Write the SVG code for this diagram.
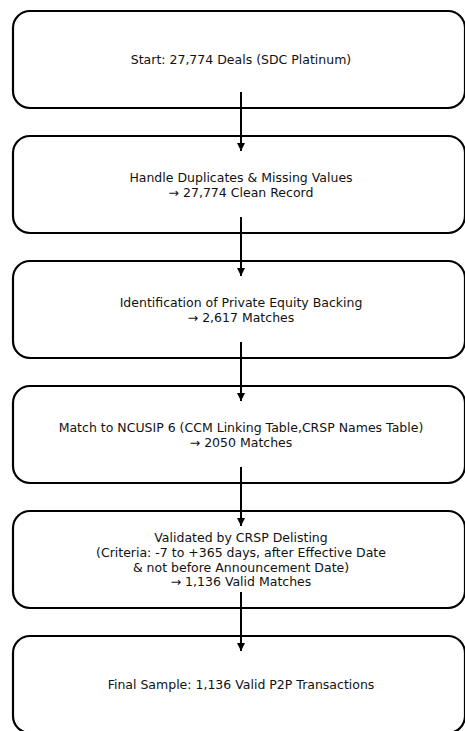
<svg xmlns="http://www.w3.org/2000/svg" width="465" height="731" viewBox="0 0 465 731">
<style>
.box{fill:#fff;stroke:#000;stroke-width:2.2}
.t{font-family:"DejaVu Sans",sans-serif;font-size:12.5px;fill:#111;text-anchor:middle}
.c{stroke:#000;stroke-width:2;fill:none}
</style>
<defs>
<marker id="ah" viewBox="0 0 10 10" refX="10" refY="5" markerWidth="4" markerHeight="4.5" orient="auto" markerUnits="strokeWidth">
<path d="M0,0 L10,5 L0,10 z" fill="#000"/>
</marker>
</defs>
<rect width="465" height="731" fill="#fff"/>
<g id="n1"><rect class="box" x="13" y="11" width="452" height="97" rx="17"/><text class="t" x="241" y="64">Start: 27,774 Deals (SDC Platinum)</text></g>
<g id="n2"><rect class="box" x="13" y="136" width="452" height="97" rx="17"/><text class="t" x="241" y="182">Handle Duplicates &amp; Missing Values</text><text class="t" x="241" y="197">→ 27,774 Clean Record</text></g>
<g id="n3"><rect class="box" x="13" y="261" width="452" height="97" rx="17"/><text class="t" x="241" y="307">Identification of Private Equity Backing</text><text class="t" x="241" y="322">→ 2,617 Matches</text></g>
<g id="n4"><rect class="box" x="13" y="386" width="452" height="97" rx="17"/><text class="t" x="241" y="432">Match to NCUSIP 6 (CCM Linking Table,CRSP Names Table)</text><text class="t" x="241" y="447">→ 2050 Matches</text></g>
<g id="n5"><rect class="box" x="13" y="511" width="452" height="97" rx="17"/><text class="t" x="241" y="542">Validated by CRSP Delisting</text><text class="t" x="241" y="557">(Criteria: -7 to +365 days, after Effective Date</text><text class="t" x="241" y="572">&amp; not before Announcement Date)</text><text class="t" x="241" y="586">→ 1,136 Valid Matches</text></g>
<g id="n6"><rect class="box" x="13" y="636" width="452" height="97" rx="17"/><text class="t" x="241" y="689">Final Sample: 1,136 Valid P2P Transactions</text></g>
<g id="connectors">
<line class="c" x1="241" y1="92" x2="241" y2="151" marker-end="url(#ah)"/>
<line class="c" x1="241" y1="217" x2="241" y2="276" marker-end="url(#ah)"/>
<line class="c" x1="241" y1="342" x2="241" y2="401" marker-end="url(#ah)"/>
<line class="c" x1="241" y1="467" x2="241" y2="526" marker-end="url(#ah)"/>
<line class="c" x1="241" y1="592" x2="241" y2="651" marker-end="url(#ah)"/>
</g>
</svg>
